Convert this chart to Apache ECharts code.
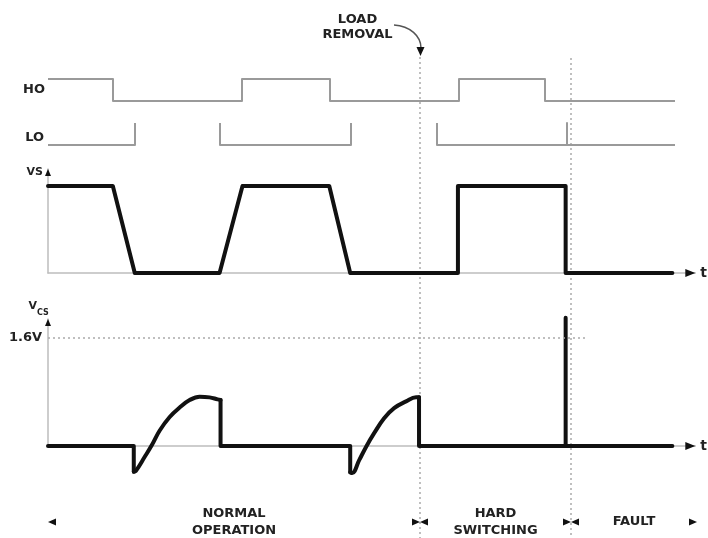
<!DOCTYPE html>
<html><head><meta charset="utf-8">
<script src="https://cdn.jsdelivr.net/npm/echarts@6/dist/echarts.min.js"></script>
<style>html,body{margin:0;padding:0;background:#fff}#c{width:708px;height:538px}</style>
</head><body><div id="c"></div>
<script>
// ---- data (time in arbitrary units, levels normalised; VCS in volts) ----
const tMax = 649;
const hoPoints = [[0,1],[65,1],[65,0],[194,0],[194,1],[282,1],[282,0],[411,0],[411,1],[497,1],[497,0],[627,0]];
const loPoints = [[0,0],[87,0],[87,1],[130,null],[172,1],[172,0],[303,0],[303,1],[345,null],[389,1],[389,0],[519,0],[519,1],[519,0],[627,0]];
const vsPoints = [[0,1],[65,1],[87,0],[172,0],[195,1],[282,1],[303,0],[411,0],[411,1],[519,1],[519,0],[626,0]];
// VCS: flat/step parts (null = break) and the two smooth current ramps
const vcsSteps = [[0,0],[86,0],[86,-0.38],[120,null],[173,0.68],[173,0],[303,0],[303,-0.39],[340,null],[372,0.72],[372,0],[519,0],[519,1.9],[519,0],[626,0]];
const vcsRamp1 = [[86,-0.38],[88,-0.37],[97,-0.16],[104,0.01],[112,0.23],[122,0.43],[132,0.57],[142,0.68],[152,0.73],[162,0.72],[170,0.69],[173,0.68]];
const vcsRamp2 = [[303,-0.39],[305,-0.40],[312,-0.21],[319,-0.01],[327,0.19],[337,0.41],[347,0.56],[359,0.66],[369,0.72],[372,0.72]];
const vsMax = 1.195;
const vcsMax = 1.88;
const vcsLimit = 1.6;
const vcsLimitEnd = 541;
const phaseBounds = [0, 372, 523, 649];
const phaseNames = ['NORMAL\nOPERATION', 'HARD\nSWITCHING', 'FAULT'];
const loadRemovalLabel = 'LOAD\nREMOVAL';
const rowLabels = ['HO', 'LO', 'VS'];

// ---- styles ----
const FONT = 'DejaVu Sans';
const TXT = '#222';
const AX = '#bdbdbd';
const thinGray = {color: '#9a9a9a', width: 2, join: 'round'};
const thick = {color: '#111', width: 4, join: 'round', cap: 'round'};
const dotted = {color: '#aaa', width: 1.5, type: [2, 3]};

const chart = echarts.init(document.getElementById('c'));
const G = (top, height) => ({left: 48, right: 11, top: top, height: height});
const grids = [G(79, 22), G(123, 22), G(169, 104), G(319, 127), {left: 48, right: 11, top: 0, height: 538}];

const xAxes = grids.map((g, i) => {
  const visible = (i === 2 || i === 3);
  return {
    type: 'value', gridIndex: i, min: 0, max: tMax, show: visible,
    axisLine: {show: visible, lineStyle: {color: AX, width: 1.5}},
    axisTick: {show: false}, axisLabel: {show: false}, splitLine: {show: false},
    name: visible ? 't' : '', nameGap: 5,
    nameTextStyle: {fontFamily: FONT, fontSize: 14, fontWeight: 'bold', color: TXT, verticalAlign: 'middle'}
  };
});
const yAxes = [
  {type: 'value', gridIndex: 0, min: 0, max: 1, show: false},
  {type: 'value', gridIndex: 1, min: 0, max: 1, show: false},
  {type: 'value', gridIndex: 2, min: 0, max: vsMax, axisLine: {show: true, lineStyle: {color: AX, width: 1.5}},
   axisTick: {show: false}, axisLabel: {show: false}, splitLine: {show: false}},
  {type: 'value', gridIndex: 3, min: 0, max: vcsMax, axisLine: {show: true, lineStyle: {color: AX, width: 1.5}},
   axisTick: {show: false}, splitLine: {show: false},
   axisLabel: {show: true, customValues: [vcsLimit], formatter: v => v + 'V', margin: 6,
     fontFamily: FONT, fontSize: 13, fontWeight: 'bold', color: TXT}},
  {type: 'value', gridIndex: 4, min: 0, max: 538, inverse: true, show: false}
];

function arrow(gi, pt, rot, size, off) {
  return {type: 'scatter', xAxisIndex: gi, yAxisIndex: gi, data: [pt], symbol: 'triangle',
    symbolRotate: rot, symbolSize: size, symbolOffset: off, clip: false, silent: true,
    itemStyle: {color: '#111', opacity: 1}, z: 5};
}

// phase markers
const phaseY = 522;
const phaseTri = [];
const phaseLabels = [];
for (let i = 0; i < phaseNames.length; i++) {
  const a = phaseBounds[i], b = phaseBounds[i + 1];
  phaseTri.push({value: [a, phaseY], symbolRotate: 90, symbolOffset: [4, 0]});
  phaseTri.push({value: [b, phaseY], symbolRotate: -90, symbolOffset: [-4, 0]});
  phaseLabels.push({name: phaseNames[i], value: [(a + b) / 2, phaseY]});
}

const vcsLine = (data, smooth) => ({type: 'line', xAxisIndex: 3, yAxisIndex: 3, data: data, symbol: 'none',
  lineStyle: thick, clip: false, z: 4, smooth: smooth, connectNulls: false});

const series = [
  {type: 'line', xAxisIndex: 0, yAxisIndex: 0, data: hoPoints, symbol: 'none', lineStyle: thinGray},
  {type: 'line', xAxisIndex: 1, yAxisIndex: 1, data: loPoints, symbol: 'none', lineStyle: thinGray, connectNulls: false},
  {type: 'line', xAxisIndex: 2, yAxisIndex: 2, data: vsPoints, symbol: 'none', lineStyle: thick, z: 4},
  Object.assign(vcsLine(vcsSteps, false), {
    markLine: {silent: true, symbol: 'none', label: {show: false}, lineStyle: dotted,
      data: [[{coord: [0, vcsLimit]}, {coord: [vcsLimitEnd, vcsLimit]}]]}}),
  vcsLine(vcsRamp1, 0.4),
  vcsLine(vcsRamp2, 0.4),
  arrow(2, [tMax, 0], -90, [8, 10], [-5, 0]),
  arrow(2, [0, vsMax], 0, [6, 7], [0, 3.5]),
  arrow(3, [tMax, 0], -90, [8, 10], [-5, 0]),
  arrow(3, [0, vcsMax], 0, [6, 7], [0, 3.5]),
  {type: 'line', xAxisIndex: 4, yAxisIndex: 4, data: [[phaseBounds[1], 57], [phaseBounds[1], 538]], symbol: 'none', lineStyle: dotted, z: 1},
  {type: 'line', xAxisIndex: 4, yAxisIndex: 4, data: [[phaseBounds[2], 58], [phaseBounds[2], 538]], symbol: 'none', lineStyle: dotted, z: 1},
  {type: 'scatter', xAxisIndex: 4, yAxisIndex: 4, data: phaseTri, symbol: 'triangle', symbolSize: [7, 8],
   itemStyle: {color: '#111', opacity: 1}, clip: false, silent: true},
  {type: 'scatter', xAxisIndex: 4, yAxisIndex: 4, data: phaseLabels, symbolSize: 0, silent: true,
   itemStyle: {opacity: 1},
   label: {show: true, position: 'inside', formatter: '{b}', fontFamily: FONT, fontSize: 13, fontWeight: 'bold',
     color: TXT, textBorderWidth: 0, textBorderColor: 'transparent', lineHeight: 17, align: 'center', verticalAlign: 'middle'}},
  {type: 'custom', xAxisIndex: 4, yAxisIndex: 4, data: [[phaseBounds[1]]], silent: true, clip: false,
   renderItem: function (params, api) {
     const p = api.coord([api.value(0), 0]);
     const x = p[0];
     return {type: 'group', children: [
       {type: 'text', style: {text: loadRemovalLabel, x: x - 62.5, y: 27.5, align: 'center', verticalAlign: 'middle',
         fontFamily: FONT, fontSize: 13, fontWeight: 'bold', fill: TXT, lineHeight: 15}},
       {type: 'bezierCurve', shape: {x1: x - 26, y1: 25, cpx1: x - 10, cpy1: 26, cpx2: x + 1, cpy2: 36, x2: x + 1, y2: 48},
         style: {stroke: '#555', lineWidth: 1.5, fill: null}},
       {type: 'polygon', shape: {points: [[x - 3.5, 47], [x + 4.5, 47], [x + 0.5, 56]]}, style: {fill: '#111'}}
     ]};
   }}
];

const tStyle = {fontFamily: FONT, fontWeight: 'bold', fill: TXT};
const graphic = [
  {type: 'text', x: 45, y: 90, style: Object.assign({text: rowLabels[0], fontSize: 13, align: 'right', verticalAlign: 'middle'}, tStyle)},
  {type: 'text', x: 44, y: 138, style: Object.assign({text: rowLabels[1], fontSize: 13, align: 'right', verticalAlign: 'middle'}, tStyle)},
  {type: 'text', x: 43, y: 172, style: Object.assign({text: rowLabels[2], fontSize: 11, align: 'right', verticalAlign: 'middle'}, tStyle)},
  {type: 'text', x: 37, y: 306, style: Object.assign({text: 'V', fontSize: 11, align: 'right', verticalAlign: 'middle'}, tStyle)},
  {type: 'text', x: 37, y: 313, style: Object.assign({text: 'CS', fontSize: 8, align: 'left', verticalAlign: 'middle'}, tStyle)}
];

chart.setOption({
  animation: false,
  backgroundColor: '#fff',
  grid: grids, xAxis: xAxes, yAxis: yAxes, series: series, graphic: graphic
});
</script></body></html>
